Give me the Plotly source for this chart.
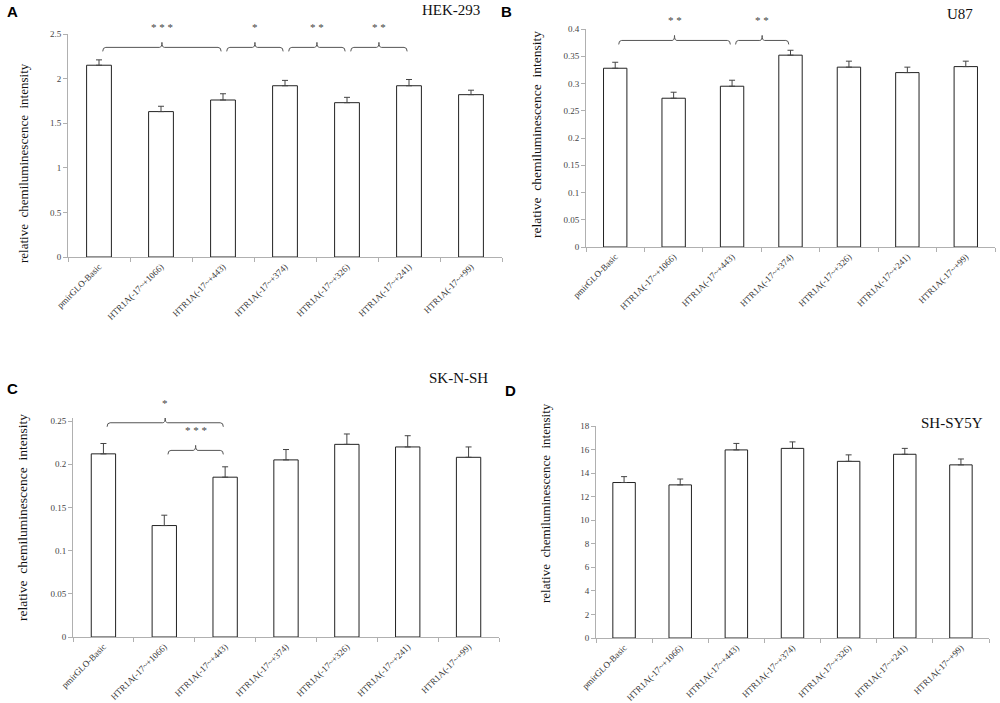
import plotly.graph_objects as go

# ---------------- data ----------------
categories = ["pmirGLO-Basic", "HTR1A(-17~+1066)", "HTR1A(-17~+443)", "HTR1A(-17~+374)",
              "HTR1A(-17~+326)", "HTR1A(-17~+241)", "HTR1A(-17~+99)"]

hek_values = [2.15, 1.63, 1.76, 1.92, 1.73, 1.92, 1.82]
hek_errors = [0.06, 0.06, 0.07, 0.06, 0.06, 0.07, 0.05]

u87_values = [0.328, 0.273, 0.295, 0.352, 0.330, 0.320, 0.331]
u87_errors = [0.011, 0.011, 0.011, 0.009, 0.011, 0.010, 0.010]

sknsh_values = [0.212, 0.129, 0.185, 0.205, 0.223, 0.220, 0.208]
sknsh_errors = [0.012, 0.012, 0.012, 0.012, 0.012, 0.013, 0.012]

shsy5y_values = [13.2, 13.0, 15.97, 16.1, 15.0, 15.6, 14.7]
shsy5y_errors = [0.5, 0.5, 0.55, 0.55, 0.55, 0.5, 0.5]

hek_ticks = [0, 0.5, 1, 1.5, 2, 2.5]
u87_ticks = [0, 0.05, 0.1, 0.15, 0.2, 0.25, 0.3, 0.35, 0.4]
sknsh_ticks = [0, 0.05, 0.1, 0.15, 0.2, 0.25]
shsy5y_ticks = [0, 2, 4, 6, 8, 10, 12, 14, 16, 18]

# significance brackets: (from index, to index, level, label)
hek_sig = [(0, 2, 2.35, "* * *"), (2, 3, 2.35, "*"), (3, 4, 2.35, "* *"), (4, 5, 2.35, "* *")]
u87_sig = [(0, 2, 0.379, "* *"), (2, 3, 0.379, "* *")]
sknsh_sig = [(0, 2, 0.248, "*"), (1, 2, 0.216, "* * *")]
shsy5y_sig = []

# ---------------- layout geometry (pixels) ----------------
W, H = 1000, 703
panels = [
    dict(v=hek_values, e=hek_errors, ticks=hek_ticks, top=2.5, sig=hek_sig,
         x0=68, x1=502, yt=34, yb=257, letter="A", lpos=(12, 12), title="HEK-293", tpos=(482, 10),
         ylab=(23, 163), ylsize=13),
    dict(v=u87_values, e=u87_errors, ticks=u87_ticks, top=0.4, sig=u87_sig,
         x0=586, x1=995, yt=29, yb=247, letter="B", lpos=(506, 12), title="U87", tpos=(975, 14),
         ylab=(537, 135), ylsize=13.5),
    dict(v=sknsh_values, e=sknsh_errors, ticks=sknsh_ticks, top=0.2535, sig=sknsh_sig,
         x0=73, x1=499, yt=418, yb=637, letter="C", lpos=(12, 388), title="SK-N-SH", tpos=(490, 378),
         ylab=(22, 518), ylsize=13.5),
    dict(v=shsy5y_values, e=shsy5y_errors, ticks=shsy5y_ticks, top=18, sig=shsy5y_sig,
         x0=596, x1=989, yt=426, yb=638, letter="D", lpos=(510, 390), title="SH-SY5Y", tpos=(985, 423),
         ylab=(545, 503), ylsize=13),
]

fig = go.Figure()
layout = dict(
    template="none",
    width=W, height=H, margin=dict(l=0, r=0, t=0, b=0, pad=0, autoexpand=False),
    paper_bgcolor="white", plot_bgcolor="white", showlegend=False,
    bargap=0.6,
)
annotations = []
shapes = []
serif = "Liberation Serif, Times New Roman, serif"

for i, p in enumerate(panels, start=1):
    xa = "x" if i == 1 else f"x{i}"
    ya = "y" if i == 1 else f"y{i}"
    xk = "xaxis" if i == 1 else f"xaxis{i}"
    yk = "yaxis" if i == 1 else f"yaxis{i}"
    fig.add_trace(go.Bar(
        x=categories, y=p["v"], xaxis=xa, yaxis=ya, width=0.4,
        marker=dict(color="white", line=dict(color="#222222", width=1)),
        error_y=dict(type="data", array=p["e"], arrayminus=[0] * len(p["e"]),
                     symmetric=False, color="#444444", thickness=1, width=3),
    ))
    ydom = [1 - p["yb"] / H, 1 - p["yt"] / H]
    xdom = [p["x0"] / W, p["x1"] / W]
    layout[xk] = dict(
        domain=xdom, anchor=ya, type="category", automargin=False,
        showline=True, linecolor="#b0b0b0", linewidth=1,
        ticks="outside", tickson="boundaries", ticklen=4, tickcolor="#b0b0b0",
        tickangle=-45, tickfont=dict(family=serif, size=9, color="#333333"),
        showgrid=False, zeroline=False, range=[-0.5, 6.5],
    )
    layout[yk] = dict(
        domain=ydom, anchor=xa, automargin=False,
        range=[0, p["top"]], tickvals=p["ticks"],
        ticktext=[f"{t:g}" for t in p["ticks"]],
        showline=True, linecolor="#b0b0b0", linewidth=1,
        ticks="outside", ticklen=4, tickcolor="#b0b0b0",
        tickfont=dict(family=serif, size=9, color="#444444"),
        showgrid=False, zeroline=False,
    )
    upp = p["top"] / (p["yb"] - p["yt"])
    for (a, b, lvl, lab) in p["sig"]:
        xa0 = a + 0.06
        xb0 = b - 0.03
        xm = (xa0 + xb0) / 2
        drop = 4 * upp
        up = 5 * upp
        path = (f"M {xa0},{lvl - drop} Q {xa0},{lvl} {xa0 + 0.05},{lvl} "
                f"L {xm - 0.04},{lvl} Q {xm},{lvl} {xm},{lvl + up} "
                f"Q {xm},{lvl} {xm + 0.04},{lvl} "
                f"L {xb0 - 0.05},{lvl} Q {xb0},{lvl} {xb0},{lvl - drop}")
        shapes.append(dict(type="path", xref=xa, yref=ya, path=path,
                           line=dict(color="#555555", width=1)))
        star_val = lvl + 20 * upp
        ypap = ydom[0] + (star_val / p["top"]) * (ydom[1] - ydom[0])
        xpap = xdom[0] + ((xm + 0.5) / 7) * (xdom[1] - xdom[0])
        annotations.append(dict(x=xpap, y=ypap, xref="paper", yref="paper", text=lab,
                                showarrow=False, font=dict(family=serif, size=11, color="#444444"),
                                xanchor="center", yanchor="middle"))
    annotations.append(dict(x=p["lpos"][0] / W, y=1 - p["lpos"][1] / H, xref="paper", yref="paper",
                            text=f"<b>{p['letter']}</b>", showarrow=False, xanchor="center",
                            yanchor="middle", font=dict(family="Liberation Sans, Arial, sans-serif",
                                                        size=15, color="black")))
    annotations.append(dict(x=p["tpos"][0] / W, y=1 - p["tpos"][1] / H, xref="paper", yref="paper",
                            text=p["title"], showarrow=False, xanchor="right", yanchor="middle",
                            font=dict(family=serif, size=15, color="#111111")))
    annotations.append(dict(x=p["ylab"][0] / W, y=1 - p["ylab"][1] / H, xref="paper", yref="paper",
                            text="relative  chemiluminescence  intensity", textangle=-90,
                            showarrow=False, xanchor="center", yanchor="middle",
                            font=dict(family=serif, size=p["ylsize"], color="#111111")))

layout["annotations"] = annotations
layout["shapes"] = shapes
fig.update_layout(**layout)
fig.write_html(
    "out.html",
    config={"displayModeBar": False},
    post_script="document.body.style.margin='0';document.body.style.overflow='hidden';",
)
